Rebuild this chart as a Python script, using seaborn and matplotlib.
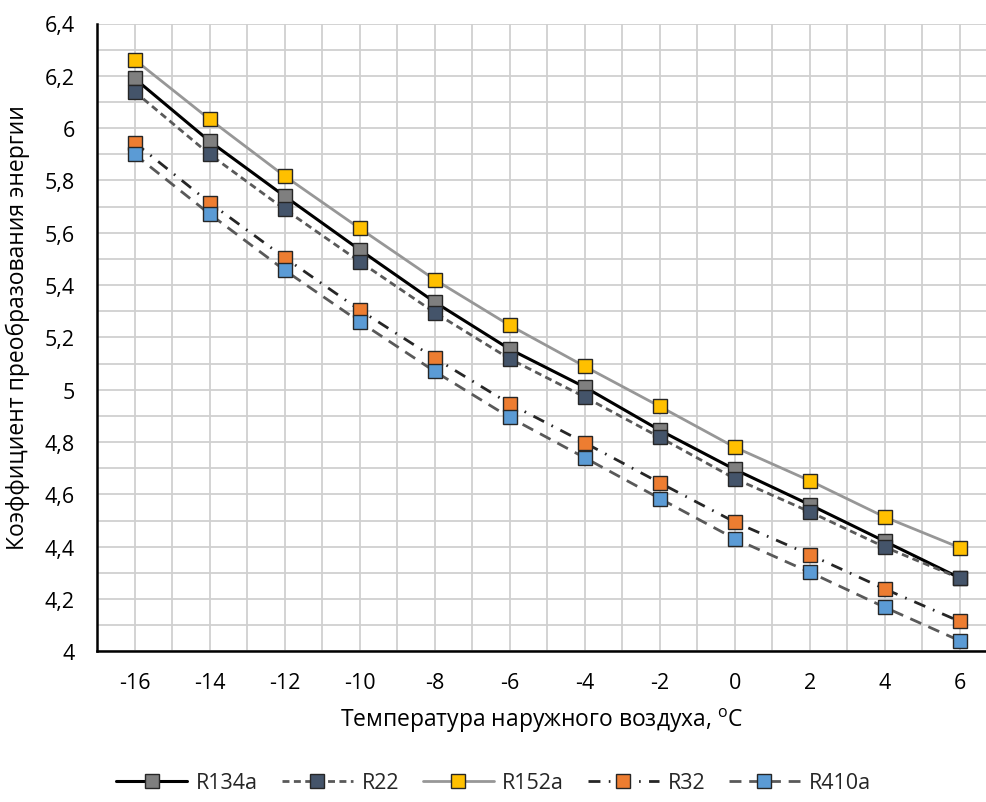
import numpy as np
import pandas as pd
import matplotlib
matplotlib.use("Agg")
import matplotlib.pyplot as plt
import seaborn as sns
from matplotlib.ticker import MultipleLocator, FixedLocator

temps = [-16, -14, -12, -10, -8, -6, -4, -2, 0, 2, 4, 6]
r134a = [6.19, 5.95, 5.74, 5.535, 5.335, 5.155, 5.01, 4.845, 4.695, 4.56, 4.42, 4.28]
r22 = [6.14, 5.90, 5.69, 5.49, 5.295, 5.118, 4.972, 4.818, 4.66, 4.533, 4.398, 4.279]
r152a = [6.262, 6.034, 5.817, 5.617, 5.421, 5.246, 5.089, 4.936, 4.78, 4.652, 4.513, 4.396]
r32 = [5.945, 5.715, 5.505, 5.305, 5.121, 4.946, 4.797, 4.644, 4.494, 4.369, 4.238, 4.114]
r410a = [5.90, 5.672, 5.457, 5.26, 5.07, 4.894, 4.74, 4.584, 4.43, 4.302, 4.168, 4.04]

series_names = ["R134a", "R22", "R152a", "R32", "R410a"]
series_values = [r134a, r22, r152a, r32, r410a]
line_colors = ["#000000", "#595959", "#979797", "#262626", "#595959"]
face_colors = ["#7F7F7F", "#44546A", "#FFC000", "#ED7D31", "#5B9BD5"]
line_styles = ["-", (0, (2.5, 1.6)), "-", (0, (4.3, 3.0, 0.6, 3.0)), (0, (4.3, 2.8))]
line_widths = [2.2, 2.0, 2.0, 2.0, 2.0]

ytick_vals = [4.0, 4.2, 4.4, 4.6, 4.8, 5.0, 5.2, 5.4, 5.6, 5.8, 6.0, 6.2, 6.4]
ytick_labels = ["4", "4,2", "4,4", "4,6", "4,8", "5", "5,2", "5,4", "5,6", "5,8", "6", "6,2", "6,4"]

sns.set_theme(style="white")
plt.rcParams["font.family"] = ["Open Sans", "DejaVu Sans"]
plt.rcParams["mathtext.fontset"] = "custom"
plt.rcParams["mathtext.rm"] = "Open Sans"

FS = 15.5
LFS = 16.5

fig = plt.figure(figsize=(9.87, 8.03), dpi=100)
ax = fig.add_axes([97 / 987, 1 - 652.3 / 803, 1 - 97 / 987, (652.3 - 24.5) / 803])

for name, vals, lc, fc, ls, lw in zip(series_names, series_values, line_colors,
                                      face_colors, line_styles, line_widths):
    sns.lineplot(x=temps, y=vals, ax=ax, color=lc, linestyle=ls, linewidth=lw,
                 marker="s", markersize=10, markerfacecolor=fc,
                 markeredgecolor="#262626", markeredgewidth=1.0, label=name,
                 zorder=3)

ax.set_xlim(-17, 6 + (987 - 960) / 37.5)
ax.set_ylim(4.0, 6.4)

ax.xaxis.set_major_locator(FixedLocator(temps))
ax.set_xticklabels([str(t) for t in temps])
ax.xaxis.set_minor_locator(MultipleLocator(1))
ax.yaxis.set_major_locator(FixedLocator(ytick_vals))
ax.set_yticklabels(ytick_labels)
ax.yaxis.set_minor_locator(MultipleLocator(0.1))

ax.grid(True, which="both", color="#D0D0D0", linewidth=1.3, zorder=0)
ax.set_axisbelow(True)

ax.tick_params(axis="both", which="both", direction="in", color="black",
               width=1.6, labelsize=FS, labelcolor="#000000")
ax.tick_params(axis="y", which="both", length=7, pad=16)
ax.tick_params(axis="x", which="both", length=6, pad=15)

for s in ["top", "right"]:
    ax.spines[s].set_visible(False)
for s in ["left", "bottom"]:
    ax.spines[s].set_color("black")
    ax.spines[s].set_linewidth(1.8)

ax.set_xlabel(r"Температура наружного воздуха, $^{\mathregular{o}}$C", fontsize=LFS,
              color="#000000", labelpad=9)
ax.set_ylabel("Коэффициент преобразования энергии", fontsize=LFS, color="#000000")
ax.yaxis.set_label_coords(-67 / 888, (652.3 - 328) / 627.8)

ax.legend(loc="center", bbox_to_anchor=(0.5, 1 - 784 / 803), bbox_transform=fig.transFigure,
          ncol=5, frameon=False, fontsize=FS, handlelength=3.3, columnspacing=1.1,
          handletextpad=0.4)

fig.savefig("out.png", dpi=100)
